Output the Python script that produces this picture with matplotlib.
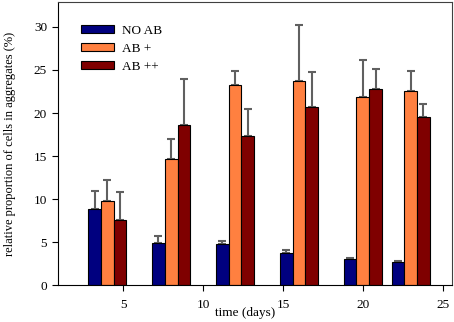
import numpy as np
import matplotlib.pyplot as plt

plt.rcParams['font.family'] = ['Liberation Serif', 'DejaVu Serif']

# Data
days = [4, 8, 12, 16, 20, 23]
series_names = ["NO AB", "AB +", "AB ++"]
no_ab = [8.8, 4.9, 4.8, 3.8, 3.0, 2.7]
no_ab_err = [2.1, 0.8, 0.3, 0.35, 0.2, 0.17]
ab_plus = [9.8, 14.7, 23.3, 23.7, 21.9, 22.6]
ab_plus_err = [2.4, 2.3, 1.6, 6.5, 4.3, 2.3]
ab_pp = [7.6, 18.6, 17.3, 20.7, 22.8, 19.5]
ab_pp_err = [3.2, 5.4, 3.2, 4.1, 2.3, 1.5]

colors = ["#00007f", "#ff8040", "#7f0000"]
values = [no_ab, ab_plus, ab_pp]
errors = [no_ab_err, ab_plus_err, ab_pp_err]

fig = plt.figure(figsize=(4.54, 3.22), dpi=100)
ax = fig.add_axes([0.128, 0.114, 0.868, 0.88])

width = 0.8
x = np.array(days, dtype=float)
for i in range(3):
    pos = x + (i - 1) * width
    ax.bar(pos, values[i], width, color=colors[i], edgecolor='black',
           linewidth=0.8, label=series_names[i], zorder=2)
    # only the upper half of the error bar is shown
    ax.errorbar(pos, values[i], yerr=[np.zeros(len(days)), errors[i]],
                fmt='none', ecolor='#606060', elinewidth=1.5, capsize=3,
                capthick=1.5, zorder=1)

ax.set_xlim(0.92, 25.6)
ax.set_ylim(0, 32.9)
ax.set_xticks([5, 10, 15, 20, 25])
ax.set_yticks([0, 5, 10, 15, 20, 25, 30])
ax.tick_params(direction='out', labelsize=9.5, length=4)
ax.tick_params(axis='x', pad=6)
ax.tick_params(axis='y', pad=4)
for s in ['top', 'right']:
    ax.spines[s].set_color('#404040')

ax.set_xlabel('time (days)', fontsize=9.5)
ax.xaxis.set_label_coords(0.475, -0.078)
ax.set_ylabel('relative proportion of cells in aggregates (%)', fontsize=9)
ax.yaxis.set_label_coords(-0.108, 0.5)

leg = ax.legend(loc='upper left', bbox_to_anchor=(0.045, 0.938), frameon=False,
                fontsize=9.5, handlelength=2.5, handleheight=0.55,
                labelspacing=0.45, handletextpad=0.6, borderaxespad=0)

fig.savefig('out.png', dpi=100)
